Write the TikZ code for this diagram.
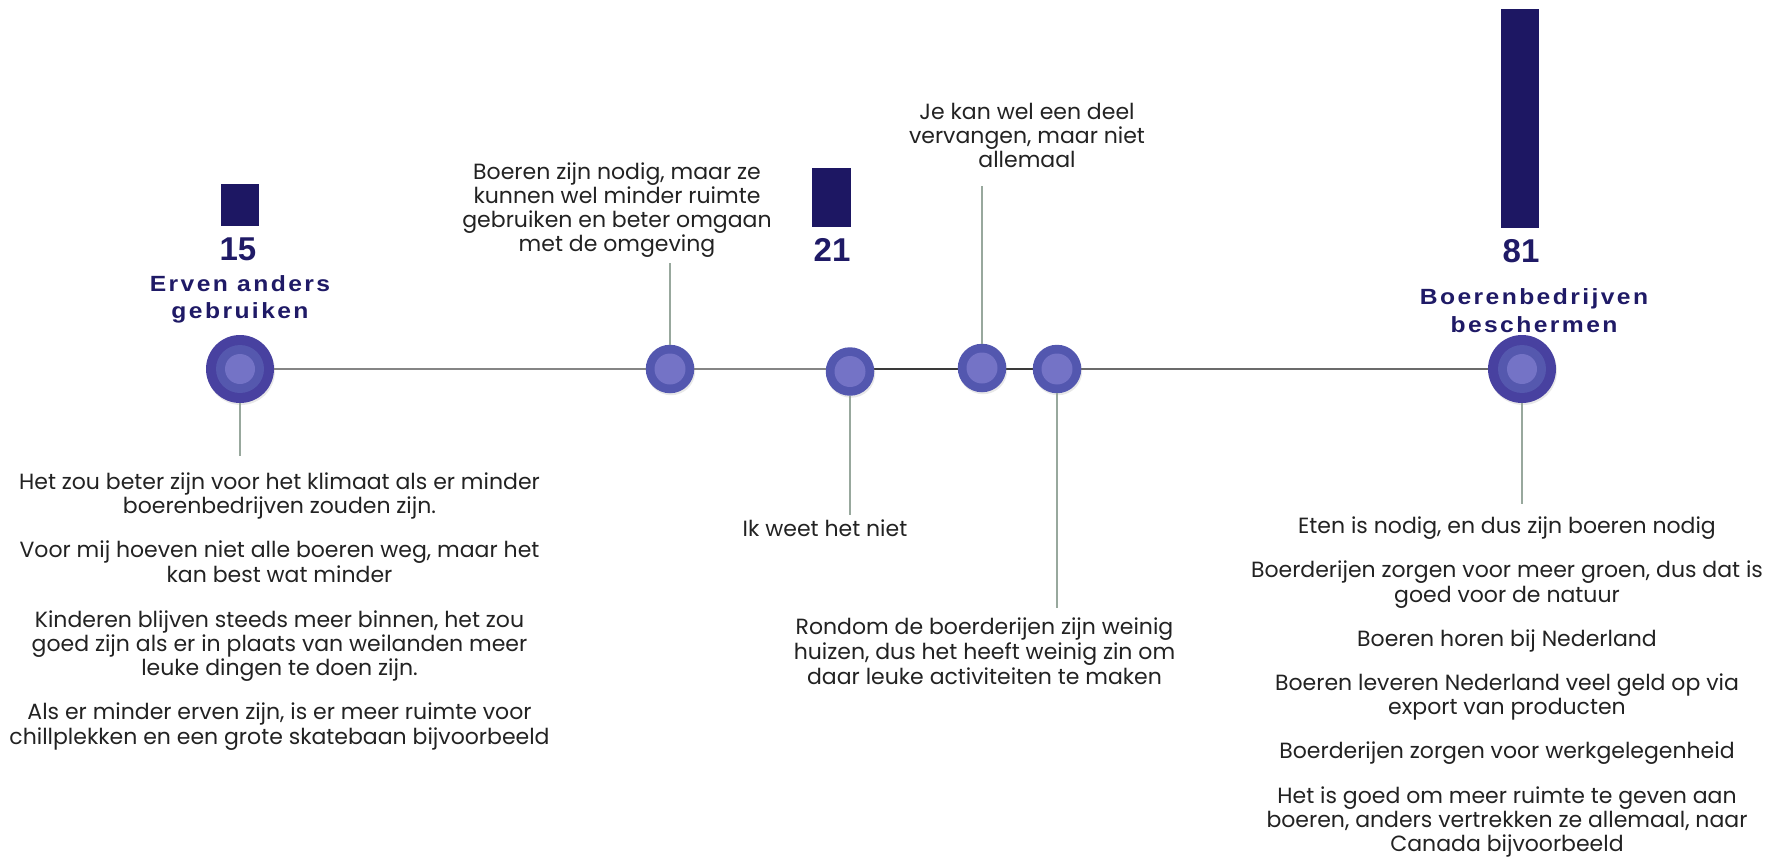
\documentclass[tikz,border=0pt]{standalone}
\usepackage{fontspec}
\setmainfont{Poppins}
\newfontfamily\labfont[LetterSpace=11,FakeStretch=1.12]{Liberation Sans}
\newfontfamily\numfont{Liberation Sans}
\usetikzlibrary{shadows,backgrounds}
\definecolor{navy}{HTML}{1D1763}
\definecolor{labnavy}{HTML}{1F1A66}
\definecolor{bigouter}{HTML}{4841A0}
\definecolor{bigmid}{HTML}{5558AE}
\definecolor{smallouter}{HTML}{5357AF}
\definecolor{innerc}{HTML}{7473C6}
\definecolor{connc}{HTML}{98A89D}
\definecolor{linec}{HTML}{858585}
\definecolor{linedark}{HTML}{3A3A3A}
\definecolor{bodytext}{HTML}{222222}
\newcommand\bdyfont{\fontsize{22}{24.5}\selectfont}
\newcommand\lblfont{\labfont\bfseries\fontsize{22}{24}\selectfont}
\newcommand\nmbfont{\numfont\bfseries\fontsize{33}{36}\selectfont}
\begin{document}
\begin{tikzpicture}[x=1pt,y=-1pt,
  txt/.style={anchor=base, inner sep=0pt, text=bodytext, font=\bdyfont},
  lbl/.style={anchor=base, inner sep=0pt, text=labnavy, font=\lblfont},
  nmb/.style={anchor=base, inner sep=0pt, text=labnavy, font=\nmbfont},
  bar/.style={rectangle, fill=navy, inner sep=0pt, minimum width=38pt},
  bignode/.style={circle, fill=bigouter, minimum size=68pt, inner sep=0pt,
    drop shadow={shadow xshift=1pt, shadow yshift=-2pt, opacity=0.18}},
  smallnode/.style={circle, fill=smallouter, minimum size=48.5pt, inner sep=0pt,
    drop shadow={shadow xshift=1pt, shadow yshift=-2pt, opacity=0.18}},
  tl/.style={draw=linec, line width=1.4pt},
  conn/.style={draw=connc, line width=1.3pt}]
\useasboundingbox (0,0) rectangle (1773,859);

% timeline nodes
\node[bignode] (n1) at (240,369) {};
\node[smallnode] (n2) at (670,369) {};
\node[smallnode] (n3) at (850,371.5) {};
\node[smallnode] (n4) at (982,368) {};
\node[smallnode] (n5) at (1057,369) {};
\node[bignode] (n6) at (1522,369) {};

\begin{scope}[on background layer]
\draw[tl] (n1.center) -- (n1.center -| n3.center);
\draw[tl, draw=linedark] (n1.center -| n3.center) -- (n1.center -| n5.center);
\draw[tl, draw=black!58] (n1.center -| n5.center) -- (n1.center -| n6.center);
\end{scope}

\fill[bigmid] (n1) circle (24pt);
\fill[innerc] (n1) circle (15pt);
\fill[bigmid] (n6) circle (24pt);
\fill[innerc] (n6) circle (15pt);
\foreach \n in {n2,n3,n4,n5} {\fill[innerc] (\n) circle (15.5pt);}

% connectors
\coordinate (e1) at (240,456);
\coordinate (e2) at (670,263);
\coordinate (e3) at (850,515);
\coordinate (e4) at (982,186);
\coordinate (e5) at (1057,608);
\coordinate (e6) at (1522,504);
\draw[conn] (n1.south) -- (e1);
\draw[conn] (n2.north) -- (e2);
\draw[conn] (n3.south) -- (e3);
\draw[conn] (n4.north) -- (e4);
\draw[conn] (n5.south) -- (e5);
\draw[conn] (n6.south) -- (e6);

% bars
\node[bar, minimum height=42pt] (b15) at (240,205) {};
\node[bar, minimum height=59pt, minimum width=39pt] (b21) at (831.5,197.5) {};
\node[bar, minimum height=219pt] (b81) at (1520,118.5) {};

% numbers and labels
\node[nmb] (v15) at (238,260) {15};
\node[lbl] (l15a) at (240,291) {Erven anders};
\node[lbl] (l15b) at (240,318) {gebruiken};
\node[nmb] (v21) at (832,261) {21};
\node[nmb] (v81) at (1521,262) {81};
\node[lbl] (l81a) at (1534,304) {Boerenbedrijven};
\node[lbl] (l81b) at (1534,332) {beschermen};

% left text block
\node[txt] (a1) at (279.5,489) {Het zou beter zijn voor het klimaat als er minder};
\node[txt] (a2) at (279.5,513) {boerenbedrijven zouden zijn.};
\node[txt] (a3) at (279.5,557) {Voor mij hoeven niet alle boeren weg, maar het};
\node[txt] (a4) at (279.5,582) {kan best wat minder};
\node[txt] (a5) at (279.5,627) {Kinderen blijven steeds meer binnen, het zou};
\node[txt] (a6) at (279.5,651) {goed zijn als er in plaats van weilanden meer};
\node[txt] (a7) at (279.5,675) {leuke dingen te doen zijn.};
\node[txt] (a8) at (279.5,719) {Als er minder erven zijn, is er meer ruimte voor};
\node[txt] (a9) at (279.5,744) {chillplekken en een grote skatebaan bijvoorbeeld};

% text above n2
\node[txt] (t2a) at (617,179) {Boeren zijn nodig, maar ze};
\node[txt] (t2b) at (617,203) {kunnen wel minder ruimte};
\node[txt] (t2c) at (617,227) {gebruiken en beter omgaan};
\node[txt] (t2d) at (617,251) {met de omgeving};

% text below n3
\node[txt] (t3) at (825,536) {Ik weet het niet};

% text above n4
\node[txt] (t4a) at (1027,119) {Je kan wel een deel};
\node[txt] (t4b) at (1027,143) {vervangen, maar niet};
\node[txt] (t4c) at (1027,167) {allemaal};

% text below n5
\node[txt] (t5a) at (984.5,634) {Rondom de boerderijen zijn weinig};
\node[txt] (t5b) at (984.5,659) {huizen, dus het heeft weinig zin om};
\node[txt] (t5c) at (984.5,684) {daar leuke activiteiten te maken};

% right text block
\node[txt] (r1) at (1507,533) {Eten is nodig, en dus zijn boeren nodig};
\node[txt] (r2) at (1507,577) {Boerderijen zorgen voor meer groen, dus dat is};
\node[txt] (r3) at (1507,602) {goed voor de natuur};
\node[txt] (r4) at (1507,646) {Boeren horen bij Nederland};
\node[txt] (r5) at (1507,690) {Boeren leveren Nederland veel geld op via};
\node[txt] (r6) at (1507,714) {export van producten};
\node[txt] (r7) at (1507,758) {Boerderijen zorgen voor werkgelegenheid};
\node[txt] (r8) at (1507,803) {Het is goed om meer ruimte te geven aan};
\node[txt] (r9) at (1507,827) {boeren, anders vertrekken ze allemaal, naar};
\node[txt] (r10) at (1507,851) {Canada bijvoorbeeld};
\end{tikzpicture}
\end{document}
